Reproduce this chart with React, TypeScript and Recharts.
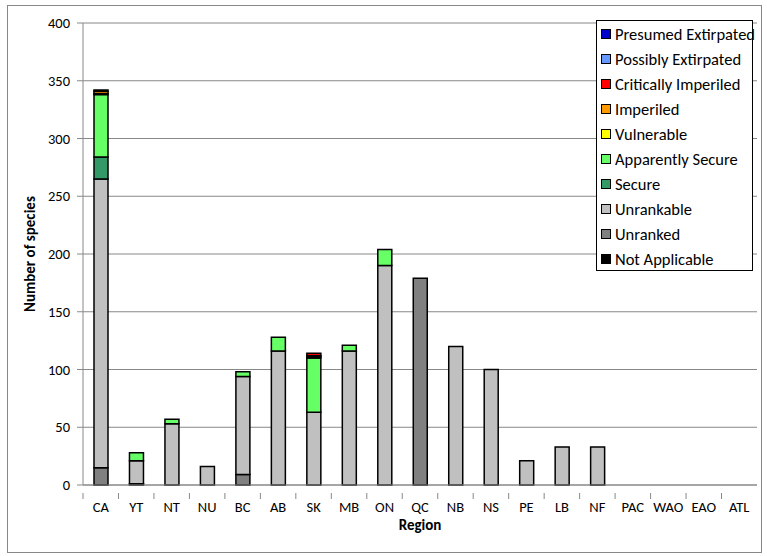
import React from "react";
import { BarChart, Bar, XAxis, YAxis, CartesianGrid } from "recharts";

// regions along the x axis
const regions = ["CA", "YT", "NT", "NU", "BC", "AB", "SK", "MB", "ON", "QC", "NB", "NS", "PE", "LB", "NF", "PAC", "WAO", "EAO", "ATL"];

// species counts per rank, one value per region
const notApplicable = [0, 1, 0, 0, 0, 0, 0, 0, 0, 0, 0, 0, 0, 0, 0, 0, 0, 0, 0];
const unranked = [15, 0, 0, 0, 9, 0, 0, 0, 0, 179, 0, 0, 0, 0, 0, 0, 0, 0, 0];
const unrankable = [250, 20, 53, 16, 85, 116, 63, 116, 190, 0, 120, 100, 21, 33, 33, 0, 0, 0, 0];
const secure = [19, 0, 0, 0, 0, 0, 0, 0, 0, 0, 0, 0, 0, 0, 0, 0, 0, 0, 0];
const apparentlySecure = [54, 7, 4, 0, 4, 12, 47, 5, 14, 0, 0, 0, 0, 0, 0, 0, 0, 0, 0];
const vulnerable = [1, 0, 0, 0, 0, 0, 1, 0, 0, 0, 0, 0, 0, 0, 0, 0, 0, 0, 0];
const imperiled = [2, 0, 0, 0, 0, 0, 1, 0, 0, 0, 0, 0, 0, 0, 0, 0, 0, 0, 0];
const criticallyImperiled = [1, 0, 0, 0, 0, 0, 2, 0, 0, 0, 0, 0, 0, 0, 0, 0, 0, 0, 0];
const possiblyExtirpated = [0, 0, 0, 0, 0, 0, 0, 0, 0, 0, 0, 0, 0, 0, 0, 0, 0, 0, 0];
const presumedExtirpated = [0, 0, 0, 0, 0, 0, 0, 0, 0, 0, 0, 0, 0, 0, 0, 0, 0, 0, 0];

const yTicks = [0, 50, 100, 150, 200, 250, 300, 350, 400];

// bottom to top stacking order
const series = [
  { key: "Not Applicable", values: notApplicable, color: "#000000" },
  { key: "Unranked", values: unranked, color: "#808080" },
  { key: "Unrankable", values: unrankable, color: "#c0c0c0" },
  { key: "Secure", values: secure, color: "#339966" },
  { key: "Apparently Secure", values: apparentlySecure, color: "#66ff66" },
  { key: "Vulnerable", values: vulnerable, color: "#ffff00" },
  { key: "Imperiled", values: imperiled, color: "#ff9900" },
  { key: "Critically Imperiled", values: criticallyImperiled, color: "#ff0000" },
  { key: "Possibly Extirpated", values: possiblyExtirpated, color: "#6699ff" },
  { key: "Presumed Extirpated", values: presumedExtirpated, color: "#0000cc" },
];

const data = regions.map((region, i) => {
  const row: Record<string, string | number> = { region };
  series.forEach((s) => {
    row[s.key] = s.values[i];
  });
  return row;
});

const font = "Carlito, Lato, sans-serif";
const halfStep = (674 / regions.length) / 2;

function RegionTick(props: any) {
  const { x, y, payload } = props;
  return (
    <g>
      <line x1={x - halfStep} y1={y} x2={x - halfStep} y2={y + 6} stroke="#888" />
      <text x={x} y={y + 19} textAnchor="middle" fontSize={14.5} fill="#000" fontFamily={font}>
        {payload.value}
      </text>
    </g>
  );
}

export default function App() {
  return (
    <div
      style={{
        position: "absolute",
        left: 7,
        top: 5,
        width: 753,
        height: 546,
        border: "1px solid #888",
        background: "#fff",
        fontFamily: font,
      }}
    >
      <BarChart
        width={753}
        height={546}
        data={data}
        margin={{ top: 17, right: 4, bottom: 12, left: 0 }}
        barSize={14}
      >
        <CartesianGrid vertical={false} stroke="#888" />
        <XAxis
          dataKey="region"
          height={55}
          stroke="#888"
          tickLine={false}
          interval={0}
          tick={<RegionTick />}
          label={{ value: "Region", position: "insideBottom", offset: 10, fontSize: 15, fontWeight: "bold", fill: "#000", fontFamily: font }}
        />
        <YAxis
          width={75}
          domain={[0, 400]}
          ticks={yTicks}
          stroke="#888"
          tickSize={6}
          tickMargin={7}
          tick={{ fontSize: 14.5, fill: "#000", fontFamily: font }}
          label={{ value: "Number of species", angle: -90, position: "insideLeft", offset: 22, fontSize: 15, fontWeight: "bold", fill: "#000", fontFamily: font, style: { textAnchor: "middle" } }}
        />
        {series.map((s) => (
          <Bar
            key={s.key}
            dataKey={s.key}
            stackId="a"
            fill={s.color}
            stroke="#000"
            strokeWidth={1.5}
            isAnimationActive={false}
          />
        ))}
      </BarChart>
      <div
        style={{
          position: "absolute",
          left: 588,
          top: 14,
          width: 157,
          height: 251,
          border: "1px solid #000",
          background: "#fff",
          boxSizing: "border-box",
        }}
      >
        {[...series].reverse().map((s) => (
          <div key={s.key} style={{ display: "flex", alignItems: "center", height: 25.1, fontSize: 16.5, paddingLeft: 4, whiteSpace: "nowrap" }}>
            <span
              style={{
                display: "inline-block",
                width: 8,
                height: 8,
                flex: "none",
                background: s.color,
                border: "1px solid #000",
                marginRight: 4,
              }}
            />
            <span>{s.key}</span>
          </div>
        ))}
      </div>
    </div>
  );
}
